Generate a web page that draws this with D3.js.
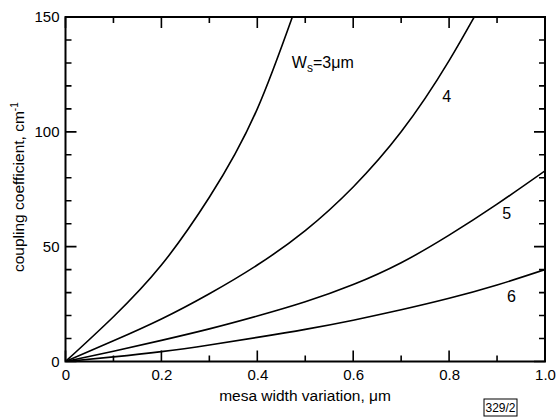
<!DOCTYPE html>
<html>
<head>
<meta charset="utf-8">
<script src="https://cdn.jsdelivr.net/npm/d3@7"></script>
<style>
  body { margin: 0; background: #fff; }
  svg { font-family: "Liberation Sans", Arial, sans-serif; }
</style>
</head>
<body>
<div id="chart"></div>
<script>
// mesa width variation (um) and coupling coefficient (cm^-1) per stripe width
const xs = [0, 0.1, 0.2, 0.3, 0.4, 0.5, 0.6, 0.7, 0.8, 0.9, 1.0]
const ws3 = [0, 19.5, 42, 71.5, 110, 166]
const ws4 = [0, 9, 18.5, 29.5, 42, 57, 76, 100, 131, 168]
const ws5 = [0, 4.5, 9.2, 14.2, 19.8, 26, 33.5, 43, 55, 68.5, 83]
const ws6 = [0, 2, 4.3, 7.2, 10.5, 14, 18, 22.5, 27.5, 33.3, 40]

const xTicks = [0, 0.2, 0.4, 0.6, 0.8, 1.0]
const yTicks = [0, 50, 100, 150]

const series = [
    { name: '3', values: ws3, lx: 0.472, ly: 128 },
    { name: '4', values: ws4, lx: 0.795, ly: 113 },
    { name: '5', values: ws5, lx: 0.92, ly: 62 },
    { name: '6', values: ws6, lx: 0.93, ly: 26 }
]

const width = 560, height = 420
const margin = { top: 17, right: 15, bottom: 58.5, left: 65.5 }
const iw = width - margin.left - margin.right
const ih = height - margin.top - margin.bottom

const svg = d3.select('#chart').append('svg')
    .attr('width', width)
    .attr('height', height)

const g = svg.append('g')
    .attr('transform', `translate(${margin.left},${margin.top})`)

const x = d3.scaleLinear().domain([0, 1]).range([0, iw])
const y = d3.scaleLinear().domain([0, 150]).range([ih, 0])

g.append('clipPath').attr('id', 'clip')
    .append('rect').attr('width', iw).attr('height', ih)

// frame
g.append('rect')
    .attr('width', iw).attr('height', ih)
    .attr('fill', 'none').attr('stroke', '#000').attr('stroke-width', 2)

// inward ticks on all four sides, minor every 0.1 / 10
const xMinor = d3.range(0, 11).map(i => i / 10)
const yMinor = d3.range(0, 16).map(i => i * 10)

const tickPath = d3.path()
xMinor.forEach((d, i) => {
    const len = i % 2 == 0 ? 11 : 6
    tickPath.moveTo(x(d), ih); tickPath.lineTo(x(d), ih - len)
    tickPath.moveTo(x(d), 0); tickPath.lineTo(x(d), len)
})
yMinor.forEach((d, i) => {
    const len = i % 5 == 0 ? 11 : 6
    tickPath.moveTo(0, y(d)); tickPath.lineTo(len, y(d))
    tickPath.moveTo(iw, y(d)); tickPath.lineTo(iw - len, y(d))
})
g.append('path')
    .attr('d', tickPath.toString())
    .style('fill', 'none')
    .style('stroke', '#000')
    .style('stroke-width', '1.6px')

// tick labels
g.append('g')
    .attr('transform', `translate(0,${ih})`)
    .call(d3.axisBottom(x).tickValues(xTicks).tickSize(0).tickPadding(8)
        .tickFormat((d) => d == 0 ? '0' : d3.format('.1f')(d)))
    .call(a => a.select('.domain').remove())
    .selectAll('text')
    .attr('font-size', 15).attr('fill', '#000')

g.append('g')
    .call(d3.axisLeft(y).tickValues(yTicks).tickSize(0).tickPadding(6))
    .call(a => a.select('.domain').remove())
    .selectAll('text')
    .attr('font-size', 15).attr('fill', '#000')

const line = d3.line()
    .x((d, i) => x(xs[i]))
    .y((d) => y(d))
    .curve(d3.curveNatural)

g.append('g').attr('clip-path', 'url(#clip)')
    .selectAll('path')
    .data(series)
    .enter()
    .append('path')
    .attr('d', (d) => line(d.values))
    .attr('fill', 'none')
    .attr('stroke', '#000')
    .attr('stroke-width', 1.6)

// curve labels
series.forEach((s) => {
    const t = g.append('text')
        .attr('x', x(s.lx))
        .attr('y', y(s.ly))
        .attr('font-size', 16)
        .attr('text-anchor', s.name == '3' ? 'start' : 'middle')
    if (s.name == '3') {
        t.append('tspan').text('W')
        t.append('tspan').attr('font-size', 12).attr('dy', 4).text('s')
        t.append('tspan').attr('dy', -4).text('=3\u03bcm')
    } else {
        t.text(s.name)
    }
})

// axis titles
svg.append('text')
    .attr('x', 305)
    .attr('y', 401)
    .attr('text-anchor', 'middle')
    .attr('font-size', 15.5)
    .text('mesa width variation, \u03bcm')

const yt = svg.append('text')
    .attr('transform', `translate(24,272) rotate(-90)`)
    .attr('text-anchor', 'start')
    .attr('font-size', 15.5)
yt.append('tspan').text('coupling coefficient, cm')
yt.append('tspan').attr('font-size', 10).attr('dy', -6).text('-1')

// figure tag
svg.append('rect')
    .attr('x', 484).attr('y', 399).attr('width', 33).attr('height', 17)
    .attr('fill', 'none').attr('stroke', '#000').attr('stroke-width', 1)
svg.append('text')
    .attr('x', 500.5).attr('y', 412)
    .attr('text-anchor', 'middle')
    .attr('font-size', 12)
    .text('329/2')
</script>
</body>
</html>
